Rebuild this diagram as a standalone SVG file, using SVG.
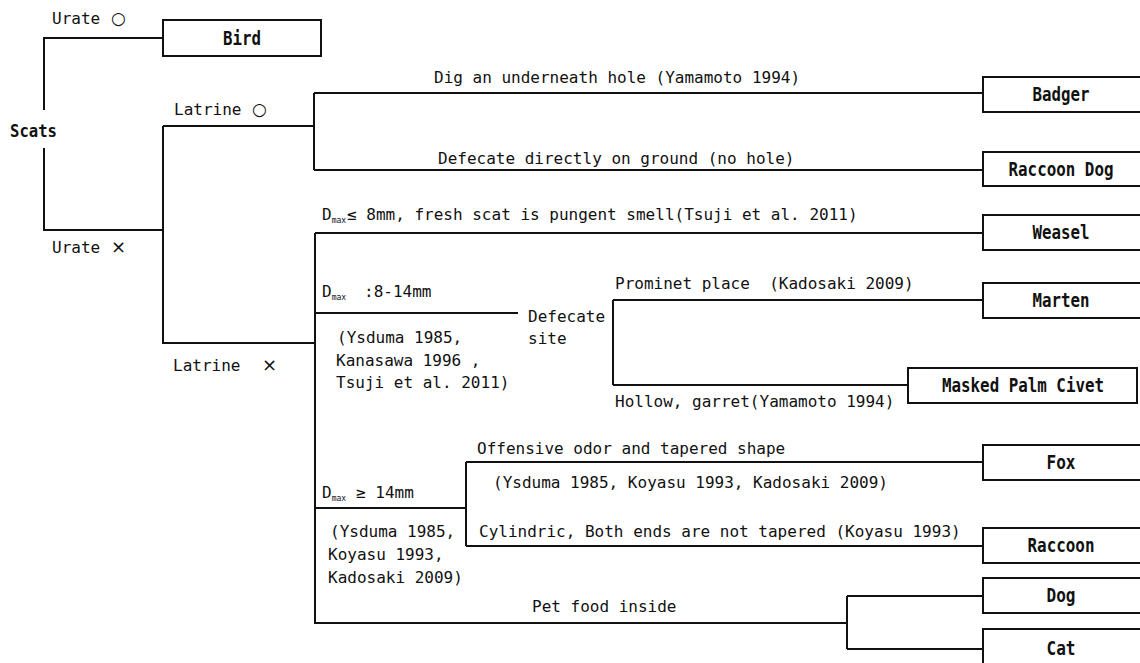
<svg xmlns="http://www.w3.org/2000/svg" width="1140" height="663" viewBox="0 0 1140 663">
<style>
.ln{fill:none;stroke:#111;stroke-width:2}
.box{fill:#fff;stroke:#111;stroke-width:2}
.t{font-family:"DejaVu Sans Mono","Liberation Mono",monospace;font-size:16px;fill:#111;white-space:pre}
.b{font-family:"DejaVu Sans Mono","Liberation Mono",monospace;font-size:19px;font-weight:bold;fill:#111;text-anchor:middle}
.sub{font-size:8px}
.o{font-family:"DejaVu Sans",sans-serif;font-size:17px}
.x{font-family:"DejaVu Sans",sans-serif;font-size:18px}
</style>
<rect width="1140" height="663" fill="#fff"/>
<g id="connectors">
<path class="ln" d="M163,38 H44 V110 M44,148 V230 H163"/>
<path class="ln" d="M163,126 V343 H315"/>
<path class="ln" d="M163,126 H314 M314,93 V170 M314,93 H983 M314,170 H983"/>
<path class="ln" d="M315,233 V624 M315,233 H983"/>
<path class="ln" d="M315,313 H518"/>
<path class="ln" d="M613,300 V385 M613,300 H983 M613,385 H908"/>
<path class="ln" d="M315,508 H466 M466,462 V546 M466,462 H983 M466,546 H983"/>
<path class="ln" d="M315,623 H847 M847,596 V649 M847,596 H983 M847,649 H983"/>
</g>
<g id="labels">
<text class="t" x="52" y="24">Urate <tspan class="o" x="111">○</tspan></text>
<text class="t" x="10" y="137" style="font-weight:bold;font-size:18px" textLength="47" lengthAdjust="spacingAndGlyphs">Scats</text>
<text class="t" x="52" y="253">Urate <tspan class="x" x="111">×</tspan></text>
<text class="t" x="174" y="115">Latrine <tspan class="o" x="252">○</tspan></text>
<text class="t" x="173" y="371">Latrine <tspan class="x" x="262">×</tspan></text>
<text class="t" x="434" y="83">Dig an underneath hole (Yamamoto 1994)</text>
<text class="t" x="438" y="164">Defecate directly on ground (no hole)</text>
<text class="t" x="322" y="220">D<tspan class="sub" dy="3">max</tspan><tspan x="347" dy="-3">≤ 8mm, fresh scat is pungent smell(Tsuji et al. 2011)</tspan></text>
<text class="t" x="322" y="297">D<tspan class="sub" dy="3">max</tspan><tspan x="364" dy="-3">:8-14mm</tspan></text>
<text class="t" x="528" y="322">Defecate</text>
<text class="t" x="528" y="344">site</text>
<text class="t" x="337" y="343">(Ysduma 1985,</text>
<text class="t" x="336" y="366">Kanasawa 1996 ,</text>
<text class="t" x="336" y="388">Tsuji et al. 2011)</text>
<text class="t" x="615" y="289">Prominet place  (Kadosaki 2009)</text>
<text class="t" x="615" y="407">Hollow, garret(Yamamoto 1994)</text>
<text class="t" x="477" y="454">Offensive odor and tapered shape</text>
<text class="t" x="493" y="488">(Ysduma 1985, Koyasu 1993, Kadosaki 2009)</text>
<text class="t" x="479" y="537">Cylindric, Both ends are not tapered (Koyasu 1993)</text>
<text class="t" x="322" y="498">D<tspan class="sub" dy="3">max</tspan><tspan x="356" dy="-3">≥ 14mm</tspan></text>
<text class="t" x="330" y="537">(Ysduma 1985,</text>
<text class="t" x="328" y="560">Koyasu 1993,</text>
<text class="t" x="328" y="583">Kadosaki 2009)</text>
<text class="t" x="532" y="612">Pet food inside</text>
</g>
<g id="bird"><rect class="box" x="163" y="20" width="158" height="36"/><text class="b" x="242" y="45" textLength="38" lengthAdjust="spacingAndGlyphs">Bird</text></g>
<g id="badger"><rect class="box" x="983" y="77" width="160" height="35"/><text class="b" x="1061" y="101" textLength="57" lengthAdjust="spacingAndGlyphs">Badger</text></g>
<g id="raccoon-dog"><rect class="box" x="983" y="152" width="160" height="34"/><text class="b" x="1061" y="176" textLength="105" lengthAdjust="spacingAndGlyphs">Raccoon Dog</text></g>
<g id="weasel"><rect class="box" x="983" y="215" width="160" height="35"/><text class="b" x="1061" y="239" textLength="57" lengthAdjust="spacingAndGlyphs">Weasel</text></g>
<g id="marten"><rect class="box" x="983" y="283" width="160" height="35"/><text class="b" x="1061" y="307" textLength="57" lengthAdjust="spacingAndGlyphs">Marten</text></g>
<g id="masked-palm-civet"><rect class="box" x="908" y="368" width="229" height="35"/><text class="b" x="1023" y="392" textLength="162" lengthAdjust="spacingAndGlyphs">Masked Palm Civet</text></g>
<g id="fox"><rect class="box" x="983" y="445" width="160" height="35"/><text class="b" x="1061" y="469" textLength="29" lengthAdjust="spacingAndGlyphs">Fox</text></g>
<g id="raccoon"><rect class="box" x="983" y="528" width="160" height="35"/><text class="b" x="1061" y="552" textLength="67" lengthAdjust="spacingAndGlyphs">Raccoon</text></g>
<g id="dog"><rect class="box" x="983" y="578" width="160" height="35"/><text class="b" x="1061" y="602" textLength="29" lengthAdjust="spacingAndGlyphs">Dog</text></g>
<g id="cat"><rect class="box" x="983" y="629" width="160" height="40"/><text class="b" x="1061" y="655" textLength="29" lengthAdjust="spacingAndGlyphs">Cat</text></g>
</svg>
